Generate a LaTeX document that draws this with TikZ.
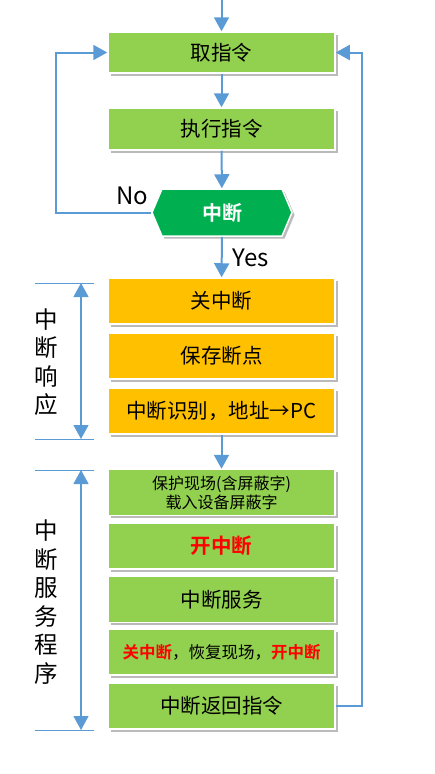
\documentclass[tikz,border=0pt]{standalone}
\usepackage{fontspec}
\setmainfont{Noto Sans CJK SC}[BoldFont=* Bold]
\usepackage{xcolor}
\usetikzlibrary{arrows.meta,shapes.symbols,shadows}

\definecolor{boxgreen}{HTML}{92D050}
\definecolor{boxorange}{HTML}{FFC000}
\definecolor{decgreen}{HTML}{00B050}
\definecolor{linkblue}{HTML}{5B9BD5}

\begin{document}
\begin{tikzpicture}[
    x=1pt, y=-1pt,
    stage/.style={
        draw=white,
        line width=1.5pt,
        fill=boxgreen,
        rectangle,
        minimum width=227pt,
        minimum height=46pt,
        inner sep=0pt,
        align=center,
        font=\fontsize{20.5pt}{24pt}\selectfont,
        drop shadow={shadow xshift=2.5pt, shadow yshift=-2.5pt, fill=black!60, opacity=0.45}
    },
    decide/.style={
        draw=white,
        line width=1.5pt,
        fill=decgreen,
        signal,
        signal to=west and east,
        signal pointer angle=134,
        minimum width=140pt,
        minimum height=47pt,
        inner sep=0pt,
        text=white,
        font=\fontsize{20pt}{24pt}\selectfont\bfseries,
        drop shadow={shadow xshift=2.5pt, shadow yshift=-2.5pt, fill=black!60, opacity=0.45}
    },
    flow/.style={
        -{Triangle[length=14pt,width=15pt]},
        draw=linkblue,
        line width=2pt
    },
    span/.style={
        {Triangle[length=14pt,width=15pt]}-{Triangle[length=14pt,width=15pt]},
        draw=linkblue,
        line width=1.2pt
    },
    rule/.style={
        draw=linkblue,
        line width=1pt
    },
    tag/.style={
        font=\fontsize{24pt}{28pt}\selectfont
    },
    side/.style={
        align=center,
        inner sep=0pt,
        font=\fontsize{23.5pt}{28.5pt}\selectfont
    }
]
    \useasboundingbox (0,0) rectangle (434,774);

    % Main loop
    \coordinate (entry) at (221.5,0);
    \node[stage, minimum height=41pt] (fetch) at (221.5,52.5) {取指令};
    \node[stage, minimum height=42pt] (exec) at (221.5,129) {执行指令};
    \node[decide] (irq) at (222,212.5) {中断};
    \node[tag] (no) at (132,196) {No};
    \node[tag] (yes) at (251,258) {Yes};

    % Interrupt response
    \node[stage, fill=boxorange] (mask) at (221.5,301) {关中断};
    \node[stage, fill=boxorange] (save) at (221.5,356) {保存断点};
    \node[stage, fill=boxorange] (ident) at (221.5,411) {中断识别，地址→PC};

    % Service routine
    \node[stage, font=\fontsize{16pt}{19pt}\selectfont] (protect) at (221.5,492.5) {保护现场(含屏蔽字)\\载入设备屏蔽字};
    \node[stage, text=red, font=\fontsize{20.5pt}{24pt}\selectfont\bfseries] (enable) at (221.5,546) {开中断};
    \node[stage] (serve) at (221.5,599.5) {中断服务};
    \node[stage, font=\fontsize{16.5pt}{20pt}\selectfont] (restore) at (221.5,652) {\textcolor{red}{\bfseries 关中断}，恢复现场，\textcolor{red}{\bfseries 开中断}};
    \node[stage] (iret) at (221.5,706) {中断返回指令};

    % Flows
    \draw[flow] (entry) -- (fetch);
    \draw[flow] (fetch) -- (exec);
    \draw[flow] (exec) -- (irq);
    \draw[flow] (irq.west) -- ++(-95,0) |- (fetch.west);
    \draw[flow] (irq) -- (mask);
    \draw[flow] (ident) -- (protect);
    \draw[flow] (iret.east) -- ++(26,0) |- (fetch.east);

    % Side brackets
    \coordinate (resp top) at (35,283);
    \coordinate (resp bottom) at (35,439);
    \coordinate (serv top) at (35,470);
    \coordinate (serv bottom) at (35,730);
    \draw[rule] (resp top) -- ++(59,0);
    \draw[rule] (resp bottom) -- ++(59,0);
    \draw[rule] (serv top) -- ++(59,0);
    \draw[rule] (serv bottom) -- ++(59,0);
    \draw[span] ([xshift=46pt]resp top) -- ([xshift=46pt]resp bottom);
    \draw[span] ([xshift=46pt]serv top) -- ([xshift=46pt]serv bottom);
    \node[side] (resp) at (46,362) {中\\断\\响\\应};
    \node[side] (serv) at (46,602) {中\\断\\服\\务\\程\\序};

\end{tikzpicture}
\end{document}
